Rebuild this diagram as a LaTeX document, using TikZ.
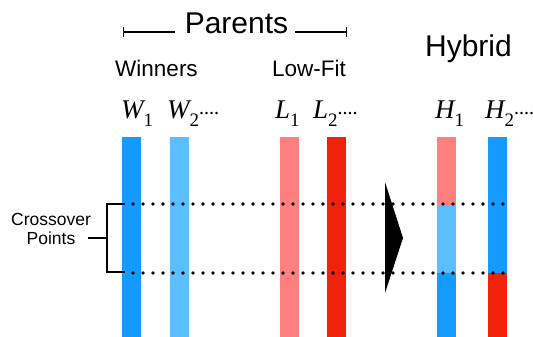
\documentclass[tikz,border=0pt]{standalone}
\usepackage{fontspec}
\setmainfont{Liberation Sans}
\newfontfamily\chromfont{Liberation Serif}
\usetikzlibrary{positioning}

\definecolor{winblue}{RGB}{21,155,255}
\definecolor{winlight}{RGB}{91,190,255}
\definecolor{lowpink}{RGB}{255,127,127}
\definecolor{lowred}{RGB}{240,34,12}

\newcommand{\chrom}[2]{{\chromfont\itshape #1}\raisebox{-0.3em}{\chromfont\fontsize{19}{19}\selectfont #2}}
\newcommand{\more}{{\chromfont\fontsize{15}{15}\selectfont\textbf{····}}}

\begin{document}
\begin{tikzpicture}[
    x=1pt, y=-1pt,
    bar/.style={rectangle, inner sep=0pt, minimum width=19pt, anchor=north},
    head/.style={inner sep=0pt, anchor=base, font=\fontsize{30}{32}\selectfont},
    group/.style={inner sep=0pt, anchor=base, font=\fontsize{22.5}{24}\selectfont},
    chromlabel/.style={inner sep=0pt, anchor=base west, font=\fontsize{27}{28}\selectfont},
    span/.style={|-, line width=1.4pt},
    bracket/.style={line width=1.8pt},
    dotline/.style={line width=3.6pt, line cap=round, dash pattern=on 0pt off 10pt}
]
\useasboundingbox (0,0) rectangle (533,337);

% Headings
\node[head] (parents) at (236.5,34) {Parents};
\node[head] (hybrid) at (468.5,57) {Hybrid};
\node[group] (winners) at (156.5,77) {Winners};
\node[group] (lowfit) at (309,77) {Low-Fit};

\coordinate (pl) at (123,32);
\coordinate (pr) at (175,32);
\coordinate (ql) at (347,32);
\coordinate (qr) at (295,32);
\draw[span] (pl) -- (pr);
\draw[span] (ql) -- (qr);

% Chromosome labels
\node[chromlabel] (lw1) at (121,118) {\chrom{W}{1}};
\node[chromlabel] (lw2) at (167,118) {\chrom{W}{2}\more};
\node[chromlabel] (ll1) at (275,118) {\chrom{L}{1}};
\node[chromlabel] (ll2) at (313,118) {\chrom{L}{2}\more};
\node[chromlabel] (lh1) at (435,118) {\chrom{H}{1}};
\node[chromlabel] (lh2) at (485,118) {\chrom{H}{2}\more};

% Parent chromosomes
\node[bar, fill=winblue, minimum height=200pt] (w1) at (131.5,137) {};
\node[bar, fill=winlight, minimum height=200pt] (w2) at (179.5,137) {};
\node[bar, fill=lowpink, minimum height=200pt] (l1) at (289,137) {};
\node[bar, fill=lowred, minimum height=200pt] (l2) at (336.5,137) {};

% Hybrid chromosomes
\node[bar, fill=lowpink, minimum height=68pt] (h1a) at (446.5,137) {};
\node[bar, fill=winlight, minimum height=68pt] (h1b) at (446.5,205) {};
\node[bar, fill=winblue, minimum height=64pt] (h1c) at (446.5,273) {};
\node[bar, fill=winblue, minimum height=136pt] (h2a) at (497.5,137) {};
\node[bar, fill=lowred, minimum height=64pt] (h2b) at (497.5,273) {};

% Crossover points
\coordinate (c1s) at (133,204);
\coordinate (c1e) at (508,204);
\coordinate (c2s) at (133,273);
\coordinate (c2e) at (508,273);
\draw[dotline] (c1s) -- (c1e);
\draw[dotline] (c2s) -- (c2e);

\node[inner sep=0pt, align=center, font=\fontsize{17.5}{18.5}\selectfont] (cross) at (51,229) {Crossover\\Points};
\coordinate (ctop) at (125,204);
\coordinate (cbot) at (125,272);
\coordinate (cmid) at (107,238);
\coordinate (ctail) at (88,238);
\draw[bracket] (ctop) -| (cmid |- cbot) -- (cbot);
\draw[bracket] (ctail) -- (cmid);

% Arrow to hybrid
\fill (385,182) -- (403,238) -- (385,293) -- cycle;

\end{tikzpicture}
\end{document}
